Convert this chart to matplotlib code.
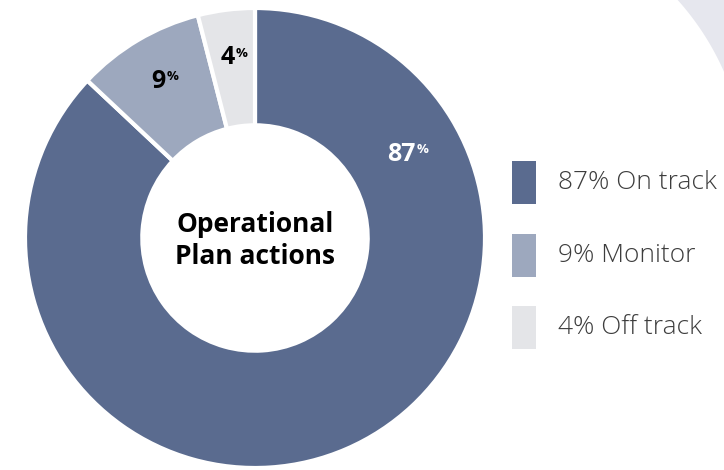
import numpy as np
import matplotlib.pyplot as plt
from matplotlib.patches import Rectangle

# data
categories = ['On track', 'Monitor', 'Off track']
values = [87, 9, 4]
colors = ['#5a6b8f', '#9da8be', '#e4e5e8']
label_colors = ['white', 'black', 'black']
center_title = 'Operational\nPlan actions'

plt.rcParams['font.family'] = ['Open Sans', 'DejaVu Sans']

W, H = 724, 470
fig = plt.figure(figsize=(W / 100, H / 100), dpi=100)

# background layer in pixel coords (y down)
bg = fig.add_axes([0, 0, 1, 1])
bg.set_xlim(0, W)
bg.set_ylim(H, 0)
bg.axis('off')

# light decorative arc in the top right corner
th = np.radians(np.linspace(-75, -10, 80))
px = list(476 + 271 * np.cos(th)) + [950, 950, 546]
py = list(181 + 271 * np.sin(th)) + [134, -300, -300]
bg.fill(px, py, color='#e6e7ee', lw=0)

# donut
cx, cy, R = 255, 238, 230
ax = fig.add_axes([(cx - R) / W, (H - cy - R) / H, 2 * R / W, 2 * R / H])
wedges, _ = ax.pie(values, colors=colors, startangle=90, counterclock=False,
                   radius=1, wedgeprops=dict(width=0.51, edgecolor='white', linewidth=3))
ax.set_xlim(-1, 1)
ax.set_ylim(-1, 1)
ax.set_aspect('equal')

for i, (w, v) in enumerate(zip(wedges, values)):
    ang = (w.theta1 + w.theta2) / 2
    r = 0.79
    if i == 0:
        ang = 29  # big slice label sits up on the right side
        r = 0.75
    x, y = r * np.cos(np.radians(ang)), r * np.sin(np.radians(ang))
    t = ax.annotate(str(v), xy=(x, y), xytext=(-3, 0), textcoords='offset points',
                    ha='center', va='center', fontsize=18, fontweight='bold',
                    color=label_colors[i])
    ax.annotate('%', xy=(1, 1), xycoords=t, xytext=(0.5, -1), textcoords='offset points',
                ha='left', va='top', fontsize=9.5, fontweight='bold', color=label_colors[i])

ax.text(0, -0.012, center_title, ha='center', va='center', fontsize=19,
        fontweight='bold', linespacing=1.22)

# legend
for i, (c, v, name) in enumerate(zip(colors, values, categories)):
    ytop = 161 + i * 72.5
    bg.add_patch(Rectangle((512, ytop), 24, 43, color=c, lw=0))
    bg.text(558, ytop + 21.5, f'{v}% {name}', ha='left', va='center',
            fontsize=19, fontweight='light', color='#3d3d3d')

fig.savefig('out.png', dpi=100)
